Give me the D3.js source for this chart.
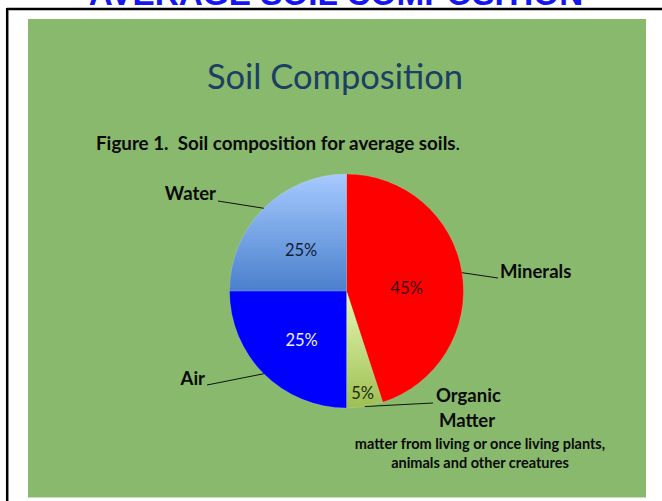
<!DOCTYPE html>
<html><head><meta charset="utf-8">
<script src="https://cdn.jsdelivr.net/npm/d3@7"></script>
<style>html,body{margin:0;padding:0;background:#fff;overflow:hidden} text{white-space:pre}</style>
</head><body>
<svg id="c" width="662" height="501"></svg>
<script>
// ---- data ----
const categories = ["Minerals", "Organic Matter", "Air", "Water"];
const values = [45, 5, 25, 25];
const pctLabels = ["45%", "5%", "25%", "25%"];
const pageTitle = "AVERAGE SOIL COMPOSITION";
const chartTitle = "Soil Composition";
const figCaption = "Figure 1.  Soil composition for average soils";
const organicNote = ["matter from living or once living plants,", "animals and other creatures"];

// ---- layout / style (not data) ----
const W = 662, H = 501;
const cx = 346.5, cy = 291, R = 117;
const font = "Lato, 'Open Sans', sans-serif";
const fills = {"Minerals": "#ff0000", "Organic Matter": "url(#gOrg)", "Air": "#0000ff", "Water": "url(#gWat)"};
const pctColors = {"Minerals": "#3a0808", "Organic Matter": "#1e2a10", "Air": "#eef0ff", "Water": "#121c36"};
const pctNudge = {"Minerals": [-1, 6.5], "Organic Matter": [0, 0], "Air": [-1, 5], "Water": [-1.5, 2.5]};
const labelLayout = {
  "Water":    {x: 216, y: 200, anchor: "end",   lx: 218, ly: 201},
  "Air":      {x: 205, y: 385, anchor: "end",   lx: 207, ly: 385},
  "Minerals": {x: 500, y: 278, anchor: "start", lx: 498, ly: 278},
  "Organic Matter": {x: 436, y: 402, anchor: "start", lx: 433, ly: 403}
};

const svg = d3.select("#c");
const defs = svg.append("defs");
const gw = defs.append("linearGradient").attr("id", "gWat").attr("x1", 0).attr("y1", 0).attr("x2", 0).attr("y2", 1);
gw.append("stop").attr("offset", "0%").attr("stop-color", "#a7caff");
gw.append("stop").attr("offset", "100%").attr("stop-color", "#4a80cc");
const go = defs.append("linearGradient").attr("id", "gOrg").attr("x1", 0).attr("y1", 0).attr("x2", 0).attr("y2", 1);
go.append("stop").attr("offset", "0%").attr("stop-color", "#e8f8b4");
go.append("stop").attr("offset", "100%").attr("stop-color", "#9cbf52");

// page title (cut off at top, as in the reference)
svg.append("text").attr("x", 336).attr("y", 5).attr("text-anchor", "middle")
  .attr("font-family", "'Liberation Sans', Arial, sans-serif").attr("font-weight", "bold")
  .attr("font-size", 33.3).attr("fill", "#1414f5").text(pageTitle);

// frame lines
svg.append("line").attr("x1", 7).attr("x2", W).attr("y1", 9).attr("y2", 9).attr("stroke", "#000").attr("stroke-width", 2.5);
svg.append("line").attr("x1", 7.2).attr("x2", 7.2).attr("y1", 8).attr("y2", H).attr("stroke", "#000").attr("stroke-width", 2.5);

// green chart area
svg.append("rect").attr("x", 28).attr("y", 19).attr("width", 618).attr("height", 478).attr("fill", "#88b96c");
svg.append("line").attr("x1", 28).attr("x2", 646).attr("y1", 497.5).attr("y2", 497.5).attr("stroke", "#c6dfb8").attr("stroke-width", 1);

// chart title
svg.append("text").attr("x", 335).attr("y", 89).attr("text-anchor", "middle")
  .attr("font-family", font).attr("font-size", 34.5).attr("fill", "#1c3f62").text(chartTitle);

// caption
const cap = svg.append("text").attr("x", 96).attr("y", 150)
  .attr("font-family", font).attr("font-size", 18.8).attr("font-weight", "bold").attr("fill", "#0a0a0a");
cap.append("tspan").text(figCaption);
cap.append("tspan").attr("font-weight", "normal").text(".");

// pie
const pie = d3.pie().sort(null).value(d => d.v);
const data = categories.map((c, i) => ({c, v: values[i], p: pctLabels[i]}));
const arcs = pie(data);
const arc = d3.arc().innerRadius(0).outerRadius(R);
const g = svg.append("g").attr("transform", `translate(${cx},${cy})`);
g.selectAll("path").data(arcs).join("path")
  .attr("d", arc).attr("fill", d => fills[d.data.c])
  .attr("stroke", "rgba(255,255,255,0.25)").attr("stroke-width", 0.6);

// percentage labels
g.selectAll("text.pct").data(arcs).join("text").attr("class", "pct")
  .attr("transform", d => {
    const small = (d.endAngle - d.startAngle) < 0.5;
    const rr = small ? R * 0.88 : R * 0.53;
    const c = d3.arc().innerRadius(rr).outerRadius(rr).centroid(d);
    const n = pctNudge[d.data.c];
    return `translate(${c[0] + n[0]},${c[1] + n[1]})`;
  })
  .attr("text-anchor", "middle").attr("dy", "0.36em")
  .attr("font-family", font).attr("font-size", 16.5)
  .attr("fill", d => pctColors[d.data.c]).text(d => d.data.p);

// leader lines + category labels
const labelSize = 18.5;
arcs.forEach(d => {
  const a = (d.startAngle + d.endAngle) / 2;
  const ex = cx + R * Math.sin(a), ey = cy - R * Math.cos(a);
  const L = labelLayout[d.data.c];
  svg.append("line").attr("x1", ex).attr("y1", ey).attr("x2", L.lx).attr("y2", L.ly)
    .attr("stroke", "#111").attr("stroke-width", 1);
  const words = d.data.c.split(" ");
  const t = svg.append("text").attr("x", L.x).attr("y", L.y).attr("text-anchor", L.anchor)
    .attr("font-family", font).attr("font-size", labelSize).attr("font-weight", "bold").attr("fill", "#0a0a0a");
  t.text(words[0]);
  if (words.length > 1) {
    svg.append("text").attr("x", 467).attr("y", L.y + 25).attr("text-anchor", "middle")
      .attr("font-family", font).attr("font-size", labelSize).attr("font-weight", "bold").attr("fill", "#0a0a0a")
      .text(words.slice(1).join(" "));
    organicNote.forEach((s, i) => {
      svg.append("text").attr("x", 480).attr("y", 449 + i * 19).attr("text-anchor", "middle")
        .attr("font-family", font).attr("font-size", 14.5).attr("font-weight", "bold").attr("fill", "#0a0a0a")
        .text(s);
    });
  }
});
</script>
</body></html>
